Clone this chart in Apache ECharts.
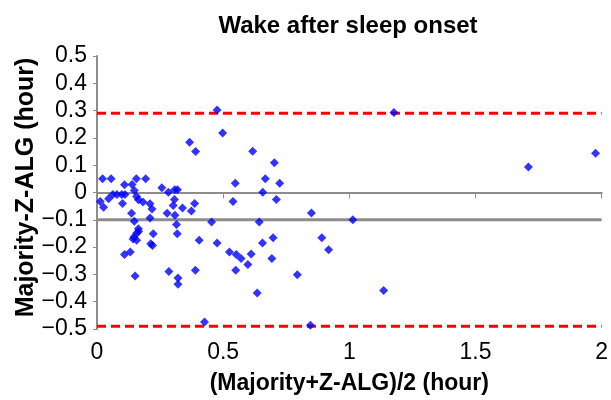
<!DOCTYPE html>
<html>
<head>
<meta charset="utf-8">
<script src="https://cdn.jsdelivr.net/npm/echarts@6/dist/echarts.min.js"></script>
<style>
  html, body { margin: 0; padding: 0; background: #fff; }
  #main { width: 611px; height: 400px; }
</style>
</head>
<body>
<div id="main"></div>
<script>
// mean of the two methods (hour)
const meanVals = [
  0.022, 0.056, 0.156, 0.193, 0.109, 0.139, 0.257, 0.283, 0.308, 0.319,
  0.013, 0.026, 0.046, 0.063, 0.079, 0.098, 0.111, 0.101, 0.148, 0.157,
  0.164, 0.182, 0.210, 0.218, 0.302, 0.307, 0.278, 0.309, 0.339, 0.374,
  0.387, 0.137, 0.148, 0.164, 0.210, 0.223, 0.315, 0.318, 0.367, 0.391,
  0.476, 0.498, 0.617, 0.703, 0.548, 0.667, 0.724, 0.657, 0.711, 0.539,
  0.454, 0.643, 0.850, 1.014, 1.177, 1.710, 1.976, 0.405, 0.476, 0.525,
  0.552, 0.571, 0.611, 0.656, 0.698, 0.693, 0.598, 0.550, 0.390, 0.794,
  0.635, 0.426, 0.846, 0.891, 0.918, 1.136, 0.109, 0.132, 0.151, 0.285,
  0.321, 0.321, 0.213, 0.220, 0.157, 0.147, 0.157, 0.143, 0.165
]
// difference Majority - Z-ALG (hour)
const diffVals = [
  0.050, 0.050, 0.050, 0.050, 0.028, 0.029, 0.017, 0.001, 0.010, 0.010,
  -0.033, -0.054, -0.023, -0.007, -0.007, -0.007, -0.007, -0.040, 0.007, -0.015,
  -0.027, -0.035, -0.041, -0.060, -0.048, -0.026, -0.076, -0.083, -0.057, -0.068,
  -0.040, -0.076, -0.105, -0.133, -0.093, -0.151, -0.117, -0.151, 0.184, 0.150,
  0.302, 0.218, 0.151, 0.109, 0.034, 0.050, 0.034, 0.001, -0.026, -0.033,
  -0.108, -0.108, -0.075, -0.100, 0.293, 0.093, 0.144, -0.175, -0.185, -0.218,
  -0.227, -0.242, -0.225, -0.185, -0.166, -0.242, -0.264, -0.285, -0.285, -0.301,
  -0.368, -0.474, -0.486, -0.166, -0.210, -0.359, -0.227, -0.218, -0.306, -0.289,
  -0.313, -0.336, -0.188, -0.194, -0.149, -0.163, -0.175, -0.170, -0.143
]
const meanDiff = -0.1
const upperLimit = 0.29
const lowerLimit = -0.49
const xRange = [0, 2]

const points = meanVals.map((x, i) => [x, diffVals[i]])

const chart = echarts.init(document.getElementById('main'), null, { renderer: 'canvas' })
const font = 'Liberation Sans, Arial, sans-serif'

let option = {
  animation: false,
  backgroundColor: '#fff',
  title: {
    text: 'Wake after sleep onset',
    left: 343,
    top: 9,
    textAlign: 'center',
    textStyle: { fontFamily: font, fontSize: 24, fontWeight: 'bold', color: '#000' }
  },
  grid: { left: 97, right: 6, top: 56, bottom: 71 },
  xAxis: {
    type: 'value',
    min: 0, max: 2, interval: 0.5,
    name: '(Majority+Z-ALG)/2 (hour)',
    nameLocation: 'middle',
    nameGap: 43,
    nameMoveOverlap: false,
    nameTextStyle: { fontFamily: font, fontSize: 23, fontWeight: 'bold', color: '#000' },
    axisLine: { show: true, lineStyle: { color: '#8c8c8c', width: 2 } },
    axisTick: { show: true, inside: false, length: 6, lineStyle: { color: '#8c8c8c', width: 1 } },
    axisLabel: { fontFamily: font, fontSize: 23, color: '#000', margin: 12 },
    splitLine: { show: false }
  },
  yAxis: {
    type: 'value',
    min: -0.5, max: 0.5, interval: 0.1,
    name: 'Majority-Z-ALG (hour)',
    nameLocation: 'middle',
    nameGap: 58,
    nameMoveOverlap: false,
    nameTextStyle: {
      fontFamily: font, fontSize: 25, fontWeight: 'bold', color: '#000',
      padding: [0, 0, 0, 10]
    },
    axisLine: { show: true, lineStyle: { color: '#8c8c8c', width: 2 } },
    axisTick: { show: true, inside: false, length: 4, lineStyle: { color: '#8c8c8c', width: 1 } },
    axisLabel: {
      fontFamily: font, fontSize: 23, color: '#000', margin: 10,
      formatter: v => {
        let s = (Math.round(v * 10) / 10).toString()
        return s.replace('-', '\u2212')
      }
    },
    splitLine: { show: false }
  },
  series: [
    {
      type: 'line',
      data: xRange.map(x => [x, meanDiff]),
      symbol: 'none',
      lineStyle: { color: '#8c8c8c', width: 3 },
      z: 1
    },
    {
      type: 'line',
      data: xRange.map(x => [x, upperLimit]),
      symbol: 'none',
      lineStyle: { color: '#ff0000', width: 3, type: [9, 5] },
      z: 1
    },
    {
      type: 'line',
      data: xRange.map(x => [x, lowerLimit]),
      symbol: 'none',
      lineStyle: { color: '#ff0000', width: 3, type: [9, 5] },
      z: 1
    },
    {
      type: 'scatter',
      data: points,
      symbol: 'diamond',
      symbolSize: 9,
      itemStyle: { color: '#0000ff' },
      z: 3
    }
  ]
}
chart.setOption(option)
</script>
</body>
</html>
